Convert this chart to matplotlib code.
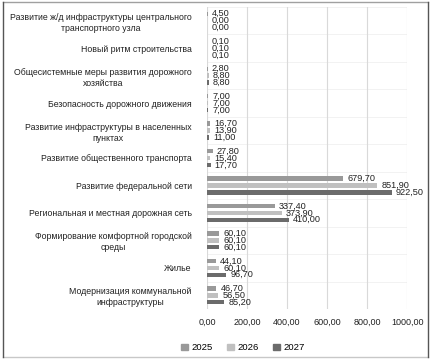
import matplotlib
matplotlib.use("Agg")
import matplotlib.pyplot as plt
import numpy as np
from matplotlib.patches import Rectangle
from matplotlib.lines import Line2D

categories = [
    "Развитие ж/д инфраструктуры центрального\nтранспортного узла",
    "Новый ритм строительства",
    "Общесистемные меры развития дорожного\nхозяйства",
    "Безопасность дорожного движения",
    "Развитие инфраструктуры в населенных\nпунктах",
    "Развитие общественного транспорта",
    "Развитие федеральной сети",
    "Региональная и местная дорожная сеть",
    "Формирование комфортной городской\nсреды",
    "Жилье",
    "Модернизация коммунальной\nинфраструктуры",
]
years = ["2025", "2026", "2027"]
v2025 = [4.50, 0.10, 2.80, 7.00, 16.70, 27.80, 679.70, 337.40, 60.10, 44.10, 46.70]
v2026 = [0.00, 0.10, 8.80, 7.00, 13.90, 15.40, 851.90, 373.90, 60.10, 60.10, 56.50]
v2027 = [0.00, 0.10, 8.80, 7.00, 11.00, 17.70, 922.50, 410.00, 60.10, 96.70, 85.20]
x_ticks = [0, 200, 400, 600, 800, 1000]

colors = ["#999999", "#c0c0c0", "#6b6b6b"]
FONT = "Liberation Sans"
INK = "#222222"


def comma(v):
    return f"{v:.2f}".replace(".", ",")


fig = plt.figure(figsize=(4.34, 3.64), dpi=100)
ax = fig.add_axes([0.477, 0.151, 0.461, 0.830])

y = np.arange(len(categories))
pitch, h = 0.25, 0.16
for i, (vals, col, yr) in enumerate(zip([v2025, v2026, v2027], colors, years)):
    pos = y + (i - 1) * pitch
    ax.barh(pos, vals, height=h, color=col, label=yr, zorder=3)
    for p, v in zip(pos, vals):
        ax.annotate(comma(v), (v, p), xytext=(3, 0), textcoords="offset points",
                    va="center", ha="left", fontsize=6.6, family=FONT, color=INK,
                    zorder=4)

ax.set_xlim(0, 1000)
ax.set_ylim(len(categories) - 0.5, -0.5)
ax.set_xticks(x_ticks)
ax.set_xticklabels([comma(t) for t in x_ticks], fontsize=6.5, family=FONT, color=INK)
ax.set_yticks(y)
ax.set_yticklabels(categories, fontsize=6.3, family=FONT, color=INK,
                   multialignment="center", linespacing=1.3)
ax.tick_params(length=0)
ax.tick_params(axis="y", pad=11)
ax.tick_params(axis="x", pad=6)
for b in np.arange(len(categories) + 1) - 0.5:
    ax.axhline(b, color="#f0f0f0", lw=0.6, zorder=1)
ax.grid(axis="x", color="#d9d9d9", lw=0.8, zorder=0)
for s in ax.spines.values():
    s.set_visible(False)

handles = [Rectangle((0, 0), 1, 1, color=c) for c in colors]
fig.legend(handles, years, loc="center", bbox_to_anchor=(0.56, 0.044), ncol=3,
           frameon=False, prop={"family": FONT, "size": 6.8}, handlelength=0.7,
           handleheight=0.7, handletextpad=0.4, columnspacing=1.5)

# outer frame
fig.add_artist(Line2D([0.007, 0.986], [0.994, 0.994], color="#a0a0a0", lw=1))
fig.add_artist(Line2D([0.007, 0.986], [0.020, 0.020], color="#c8c8c8", lw=1))
fig.add_artist(Line2D([0.007, 0.007], [0.020, 0.994], color="#555555", lw=1))
fig.add_artist(Line2D([0.986, 0.986], [0.020, 0.994], color="#555555", lw=1))

fig.savefig("out.png", dpi=100)
